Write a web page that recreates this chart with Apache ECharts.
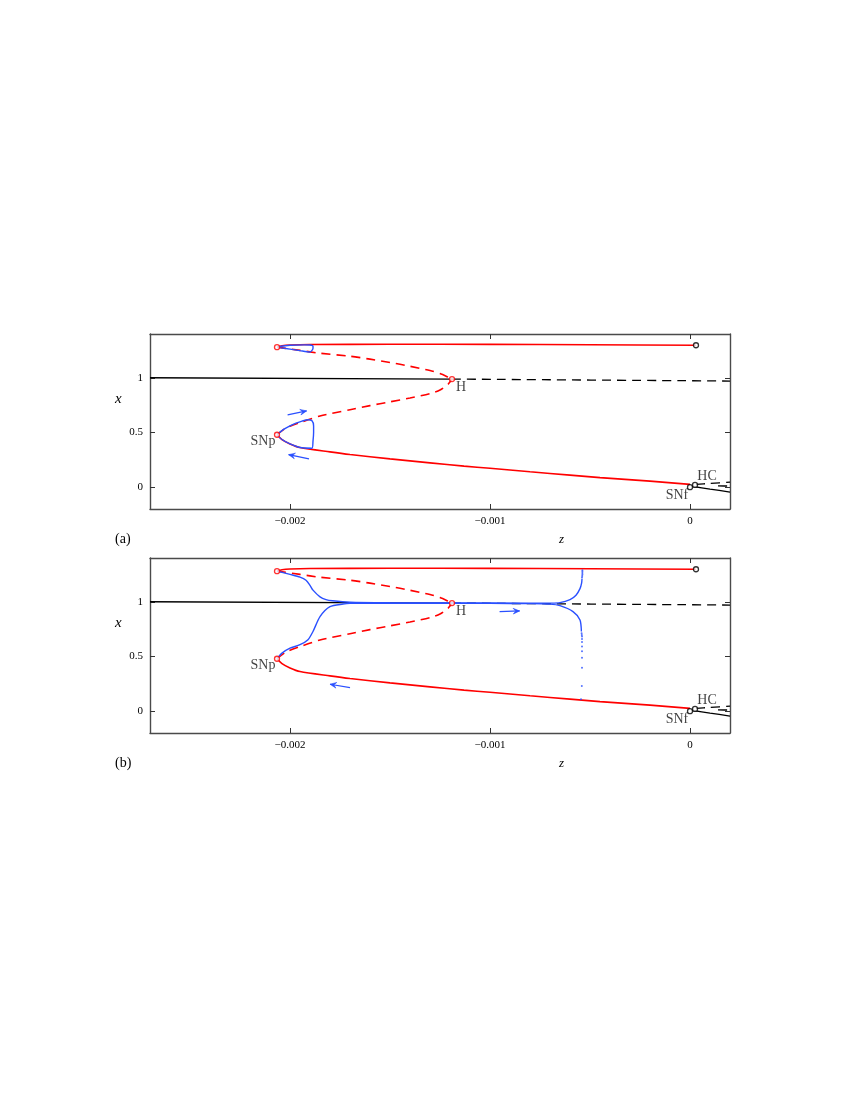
<!DOCTYPE html>
<html>
<head>
<meta charset="utf-8">
<script src="https://cdn.jsdelivr.net/npm/echarts@6/dist/echarts.min.js"></script>
<style>
html,body{margin:0;padding:0;background:#fff;}
#chart{width:850px;height:1100px;}
</style>
</head>
<body>
<div id="chart"></div>
<script>
// ---------- data (z, x) ----------
const zTicks = [-0.002, -0.001, 0];
const xTicks = [0, 0.5, 1];

const blackStable = [[-0.0027, 1.0], [-0.00119, 0.988]];
const blackUnstable = [[-0.00119, 0.988], [0.0002, 0.97]];
const blackStableRight = [[0.00001, 0.008], [0.0001, -0.018], [0.0002, -0.045]];
const blackUnstableRightA = [[0.00003, 0.025], [0.0001, 0.034], [0.0002, 0.046]];
const blackUnstableRightB = [[0.00014, 0.011], [0.0002, 0.01]];

const redStableUpper = [[-0.002065, 1.28], [-0.00204, 1.292], [-0.002, 1.299], [-0.0019, 1.304], [-0.0015, 1.306], [-0.001, 1.305], [-0.0005, 1.302], [0.00003, 1.297]];
const redUnstableUpper = [[-0.002065, 1.28], [-0.00195, 1.25], [-0.00185, 1.224], [-0.0017, 1.197], [-0.0016, 1.17], [-0.0015, 1.14], [-0.0014, 1.105], [-0.0013, 1.066], [-0.00125, 1.038], [-0.00121, 1.006], [-0.00119, 0.988]];
const redUnstableLower = [[-0.002065, 0.479], [-0.00202, 0.54], [-0.00195, 0.59], [-0.00185, 0.65], [-0.0017, 0.708], [-0.0016, 0.745], [-0.0015, 0.78], [-0.0014, 0.815], [-0.0013, 0.855], [-0.00125, 0.888], [-0.00121, 0.94], [-0.00119, 0.988]];
const redStableLower = [[-0.002065, 0.479], [-0.00204, 0.435], [-0.002, 0.395], [-0.00195, 0.362], [-0.0018, 0.322], [-0.0017, 0.298], [-0.0015, 0.258], [-0.0013, 0.222], [-0.00113, 0.192], [-0.001, 0.172], [-0.0008, 0.14], [-0.0006, 0.11], [-0.00045, 0.087], [-0.0002, 0.055], [0, 0.025]];

const redCircles = [[-0.002065, 1.28], [-0.002065, 0.479], [-0.00119, 0.988]];
const blackCircles = [[0.00003, 1.297], [0, 0.0], [0.000025, 0.02]];

const labelNames = ['SNp', 'H', 'HC', 'SNf'];
const labelPoints = [[-0.002065, 0.479], [-0.00119, 0.988], [0.000025, 0.02], [0, 0.0]];

// panel (a) trajectories
const blueA_top = [[-0.002065, 1.282], [-0.002, 1.297], [-0.00193, 1.301], [-0.0019, 1.299], [-0.001885, 1.29], [-0.001885, 1.27], [-0.00189, 1.25], [-0.0019, 1.236], [-0.00195, 1.248], [-0.002, 1.262], [-0.002065, 1.28]];
const blueA_loop = [[-0.002065, 0.48], [-0.00203, 0.53], [-0.002, 0.56], [-0.00197, 0.585], [-0.00194, 0.604], [-0.00191, 0.616], [-0.00189, 0.606], [-0.001882, 0.56], [-0.001882, 0.5], [-0.001885, 0.42], [-0.00189, 0.356], [-0.00195, 0.362], [-0.002, 0.395], [-0.00204, 0.435], [-0.002065, 0.48]];
const arrowsA = [[-0.002012, 0.661, -0.001917, 0.697], [-0.001905, 0.258, -0.002007, 0.297]];

// panel (b) trajectories
const blueB_upper = [[-0.002065, 1.281], [-0.002, 1.25], [-0.00195, 1.225], [-0.00192, 1.197], [-0.0019, 1.15], [-0.001885, 1.106], [-0.00185, 1.045], [-0.00182, 1.02], [-0.001787, 1.009], [-0.0017, 0.996], [-0.0015, 0.991], [-0.0012, 0.989], [-0.001, 0.988], [-0.0008, 0.986], [-0.0007, 0.987], [-0.00065, 0.992], [-0.0006, 1.02], [-0.00057, 1.06], [-0.00055, 1.12], [-0.000542, 1.17], [-0.00054, 1.21]];
const blueB_lower = [[-0.002065, 0.478], [-0.00204, 0.53], [-0.002, 0.575], [-0.00195, 0.607], [-0.00191, 0.653], [-0.001885, 0.728], [-0.00185, 0.864], [-0.0018, 0.955], [-0.001735, 0.979], [-0.0017, 0.985], [-0.0015, 0.987], [-0.0012, 0.986], [-0.001, 0.985], [-0.0008, 0.983], [-0.0007, 0.978], [-0.00065, 0.964], [-0.000585, 0.91], [-0.00055, 0.834], [-0.000543, 0.728]];
const blueB_dotsUpper = [[-0.00054, 1.222], [-0.000539, 1.236], [-0.000538, 1.25], [-0.000538, 1.264], [-0.000538, 1.277], [-0.000538, 1.289]];
const blueB_dotsLower = [[-0.000542, 0.712], [-0.000541, 0.695], [-0.00054, 0.683], [-0.00054, 0.66], [-0.00054, 0.632], [-0.00054, 0.592], [-0.00054, 0.547], [-0.00054, 0.487], [-0.00054, 0.397], [-0.000541, 0.23], [-0.000545, 0.108]];
const arrowsB = [[-0.000952, 0.909, -0.000852, 0.916], [-0.0017, 0.215, -0.0018, 0.246]];

// ---------- styling ----------
const RED = '#ff0000', BLUE = '#2a50ff', BLACK = '#000000', AX = '#4a4a4a';
const SERIF = '"Liberation Serif", "DejaVu Serif", serif';
const grids = [{left: 150, top: 334, width: 580, height: 175}, {left: 150, top: 558, width: 580, height: 175}];

function fmtZ(v) {
  if (Math.abs(v) < 1e-12) return '0';
  return (v < 0 ? '\u2212' : '') + String(Math.abs(v));
}

const xAxes = [], yAxes = [], series = [];

function line(gi, data, color, width, dashed, z) {
  series.push({
    type: 'line', xAxisIndex: 2 * gi, yAxisIndex: 2 * gi, data: data,
    showSymbol: false, symbol: 'none', smooth: 0.25, silent: true, z: z || 2,
    lineStyle: {color: color, width: width, type: dashed ? [9, 6] : 'solid'},
    animation: false
  });
}

function arrowSeries(gi, data) {
  series.push({
    type: 'custom', xAxisIndex: 2 * gi, yAxisIndex: 2 * gi, data: data, z: 6,
    encode: {x: [0, 2], y: [1, 3]}, silent: true, animation: false, clip: false,
    renderItem: function (params, api) {
      const p1 = api.coord([api.value(0), api.value(1)]);
      const p2 = api.coord([api.value(2), api.value(3)]);
      const a = Math.atan2(p2[1] - p1[1], p2[0] - p1[0]);
      const L = 7, w = 0.42;
      const b1 = [p2[0] - L * Math.cos(a - w), p2[1] - L * Math.sin(a - w)];
      const b2 = [p2[0] - L * Math.cos(a + w), p2[1] - L * Math.sin(a + w)];
      const m = [p2[0] - 0.55 * L * Math.cos(a), p2[1] - 0.55 * L * Math.sin(a)];
      return {
        type: 'group', children: [
          {type: 'line', shape: {x1: p1[0], y1: p1[1], x2: p2[0], y2: p2[1]}, style: {stroke: BLUE, lineWidth: 1.2}},
          {type: 'polygon', shape: {points: [b1, p2, b2, m]}, style: {fill: BLUE, stroke: BLUE, lineWidth: 0.6}}
        ]
      };
    }
  });
}

grids.forEach(function (g, gi) {
  const common = {gridIndex: gi, type: 'value', splitLine: {show: false},
    axisLine: {show: true, onZero: false, lineStyle: {color: AX, width: 1.4}}};
  xAxes.push(Object.assign({}, common, {
    min: -0.0027, max: 0.0002, position: 'bottom',
    axisTick: {show: true, inside: true, length: 5, customValues: zTicks, lineStyle: {color: '#333', width: 1}},
    axisLabel: {show: true, customValues: zTicks, formatter: fmtZ, margin: 7, color: '#000', fontFamily: SERIF, fontSize: 11}
  }));
  xAxes.push(Object.assign({}, common, {
    min: -0.0027, max: 0.0002, position: 'top',
    axisTick: {show: true, inside: true, length: 5, customValues: zTicks, lineStyle: {color: '#333', width: 1}},
    axisLabel: {show: false}
  }));
  yAxes.push(Object.assign({}, common, {
    min: -0.2, max: 1.4, position: 'left',
    axisTick: {show: true, inside: true, length: 5, customValues: xTicks, lineStyle: {color: '#333', width: 1}},
    axisLabel: {show: true, customValues: xTicks, margin: 7, color: '#000', fontFamily: SERIF, fontSize: 11}
  }));
  yAxes.push(Object.assign({}, common, {
    min: -0.2, max: 1.4, position: 'right',
    axisTick: {show: true, inside: true, length: 5, customValues: xTicks, lineStyle: {color: '#333', width: 1}},
    axisLabel: {show: false}
  }));

  // equilibria
  line(gi, blackStable, BLACK, 1.3, false, 2);
  line(gi, blackUnstable, BLACK, 1.3, true, 2);
  line(gi, blackStableRight, BLACK, 1.3, false, 2);
  line(gi, blackUnstableRightA, BLACK, 1.3, true, 2);
  line(gi, blackUnstableRightB, BLACK, 1.3, true, 2);
  // periodic orbit branches
  line(gi, redStableUpper, RED, 1.6, false, 3);
  line(gi, redUnstableUpper, RED, 1.6, true, 3);
  line(gi, redUnstableLower, RED, 1.6, true, 3);
  line(gi, redStableLower, RED, 1.6, false, 3);

  if (gi === 0) {
    line(gi, blueA_top, BLUE, 1.4, false, 4);
    line(gi, blueA_loop, BLUE, 1.4, false, 4);
    arrowSeries(gi, arrowsA);
  } else {
    line(gi, blueB_upper, BLUE, 1.4, false, 4);
    line(gi, blueB_lower, BLUE, 1.4, false, 4);
    series.push({type: 'scatter', xAxisIndex: 2, yAxisIndex: 2, data: blueB_dotsUpper.concat(blueB_dotsLower),
      symbol: 'circle', symbolSize: 2, itemStyle: {color: BLUE}, z: 4, silent: true, animation: false});
    arrowSeries(gi, arrowsB);
  }

  series.push({type: 'scatter', xAxisIndex: 2 * gi, yAxisIndex: 2 * gi, data: redCircles,
    symbol: 'circle', symbolSize: 5, itemStyle: {color: '#fff', borderColor: RED, borderWidth: 1.3}, z: 7, silent: true, animation: false});
  series.push({type: 'scatter', xAxisIndex: 2 * gi, yAxisIndex: 2 * gi, data: blackCircles,
    symbol: 'circle', symbolSize: 5, itemStyle: {color: '#fff', borderColor: BLACK, borderWidth: 1.3}, z: 7, silent: true, animation: false});

  const offsets = [[-14, 7], [9, 8], [12, -9], [-13, 8]];
  series.push({type: 'scatter', xAxisIndex: 2 * gi, yAxisIndex: 2 * gi, symbolSize: 0, z: 8, silent: true, animation: false,
    data: labelPoints.map(function (p, k) {
      return {value: p, label: {show: true, position: 'inside', formatter: labelNames[k], offset: offsets[k],
        color: '#111', fontFamily: SERIF, fontSize: 14}};
    })
  });
});

const texts = [];
[['x', 119, 401], ['x', 119, 625]].forEach(function (t) {
  texts.push({type: 'text', left: t[1] - 4, top: t[2] - 9, style: {text: t[0], font: 'italic 15px ' + SERIF, fill: '#000'}});
});
[['z', 563, 540], ['z', 563, 764]].forEach(function (t) {
  texts.push({type: 'text', left: t[1] - 4, top: t[2] - 7, style: {text: t[0], font: 'italic 13px ' + SERIF, fill: '#000'}});
});
[['(a)', 125, 540], ['(b)', 125, 764]].forEach(function (t) {
  texts.push({type: 'text', left: t[1] - 10, top: t[2] - 8, style: {text: t[0], font: '14px ' + SERIF, fill: '#000'}});
});

const chart = echarts.init(document.getElementById('chart'), null, {renderer: 'canvas'});
chart.setOption({
  animation: false,
  backgroundColor: '#fff',
  grid: grids,
  xAxis: xAxes,
  yAxis: yAxes,
  series: series,
  graphic: texts
});
</script>
</body>
</html>
